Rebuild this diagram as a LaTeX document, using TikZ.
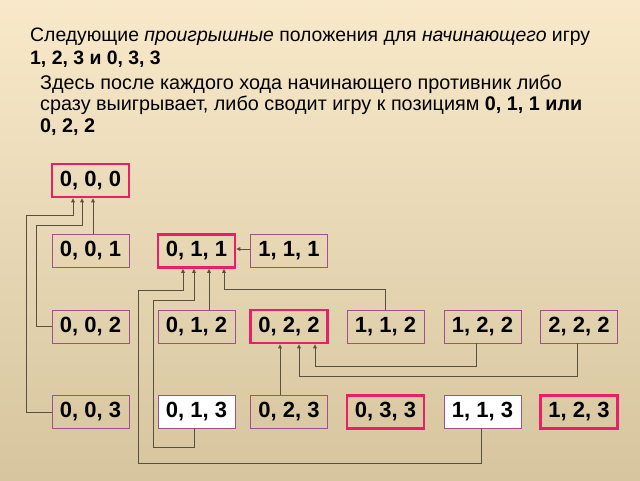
\documentclass[tikz,border=0pt]{standalone}
\usepackage{fontspec}
\setmainfont{Liberation Sans}
\usetikzlibrary{arrows.meta}
\definecolor{bg top}{RGB}{248,233,202}
\definecolor{bg bottom}{RGB}{214,197,158}
\definecolor{box border}{RGB}{160,80,140}
\definecolor{lose border}{RGB}{232,32,104}
\definecolor{wire}{RGB}{90,80,64}
\tikzset{
    % Positions of the game
    state box/.style={draw=box border,line width=0.8pt,minimum width=77pt,minimum height=33pt,inner sep=0pt,font=\fontsize{22}{22}\selectfont\bfseries},
    lose box/.style={state box,draw=lose border,line width=2.6pt},
    white box/.style={state box,fill=white},
    %
    % Arrows
    arrow tip/.tip={Triangle[length=4pt,width=3.6pt]},
    arr/.style={->,>={arrow tip},wire,line width=0.8pt},
    %
    % Text
    note/.style={anchor=base west,inner sep=0pt,font=\fontsize{19.8}{20}\selectfont},
    head note/.style={note,font=\fontsize{19.4}{20}\selectfont}
}

\begin{document}
\begin{tikzpicture}[x=1pt,y=-1pt]
        \shade[top color=bg top,bottom color=bg bottom] (0,0) rectangle (640,480);
        \useasboundingbox (0,0) rectangle (640,480);

        \node[head note] (head1) at (30,41) {Следующие \textit{проигрышные} положения для \textit{начинающего} игру};
        \node[head note] (head2) at (30,64) {\textbf{1, 2, 3 и 0, 3, 3}};
        \node[note] (info1) at (40,89) {Здесь после каждого хода начинающего противник либо};
        \node[note] (info2) at (40,110.5) {сразу выигрывает, либо сводит игру к позициям \textbf{0, 1, 1 или}};
        \node[note] (info3) at (40,132) {\textbf{0, 2, 2}};

        \node[lose box] (p000) at (90.5,180.5) {0, 0, 0};

        \node[state box] (p001) at (90.5,251) {0, 0, 1};
        \node[lose box] (p011) at (196.5,251) {0, 1, 1};
        \node[state box] (p111) at (289,251) {1, 1, 1};

        \node[state box] (p002) at (90.5,326.5) {0, 0, 2};
        \node[state box] (p012) at (196.5,326.5) {0, 1, 2};
        \node[lose box] (p022) at (289,326.5) {0, 2, 2};
        \node[state box] (p112) at (385.5,326.5) {1, 1, 2};
        \node[state box] (p122) at (482.5,326.5) {1, 2, 2};
        \node[state box] (p222) at (579,326.5) {2, 2, 2};

        \node[state box] (p003) at (90.5,412) {0, 0, 3};
        \node[white box] (p013) at (196.5,412) {0, 1, 3};
        \node[state box] (p023) at (289,412) {0, 2, 3};
        \node[lose box] (p033) at (385.5,412) {0, 3, 3};
        \node[white box] (p113) at (482.5,412) {1, 1, 3};
        \node[lose box] (p123) at (579,412) {1, 2, 3};

        % moves to 0, 0, 0
        \coordinate (t2) at (82,225);
        \coordinate (t3) at (73,215);
        \draw[arr] ([xshift=2.5pt]p001.north) -- ([xshift=2.5pt]p000.south);
        \draw[arr] (p002.west) -- ++(-15,0) |- (t2) -- (t2 |- p000.south);
        \draw[arr] (p003.west) -- ++(-25,0) |- (t3) -- (t3 |- p000.south);

        % moves to 0, 1, 1
        \coordinate (u1) at (138,290);
        \coordinate (u2) at (153,300);
        \draw[arr] ([yshift=2pt]p111.west) -- ([yshift=2pt]p011.east);
        \draw[arr] ([xshift=12.5pt]p012.north) -- ([xshift=12.5pt]p011.south);
        \draw[arr] ([xshift=-2.5pt]p013.south) -- ++(0,18) -| (u2) -| ([xshift=-2.5pt]p011.south);
        \draw[arr] ([xshift=-1.5pt]p113.south) -- ++(0,34) -| (u1) -| ([xshift=-13.5pt]p011.south);
        \draw[arr] (p112.north) -- ++(0,-20) -| ([xshift=27.5pt]p011.south);

        % moves to 0, 2, 2
        \draw[arr] ([xshift=-9pt]p023.north) -- ([xshift=-9pt]p022.south);
        \draw[arr] ([xshift=-6.5pt]p122.south) -- ++(0,22.5) -| ([xshift=26pt]p022.south);
        \draw[arr] ([xshift=-2pt]p222.south) -- ++(0,32.5) -| ([xshift=10pt]p022.south);
\end{tikzpicture}
\end{document}
